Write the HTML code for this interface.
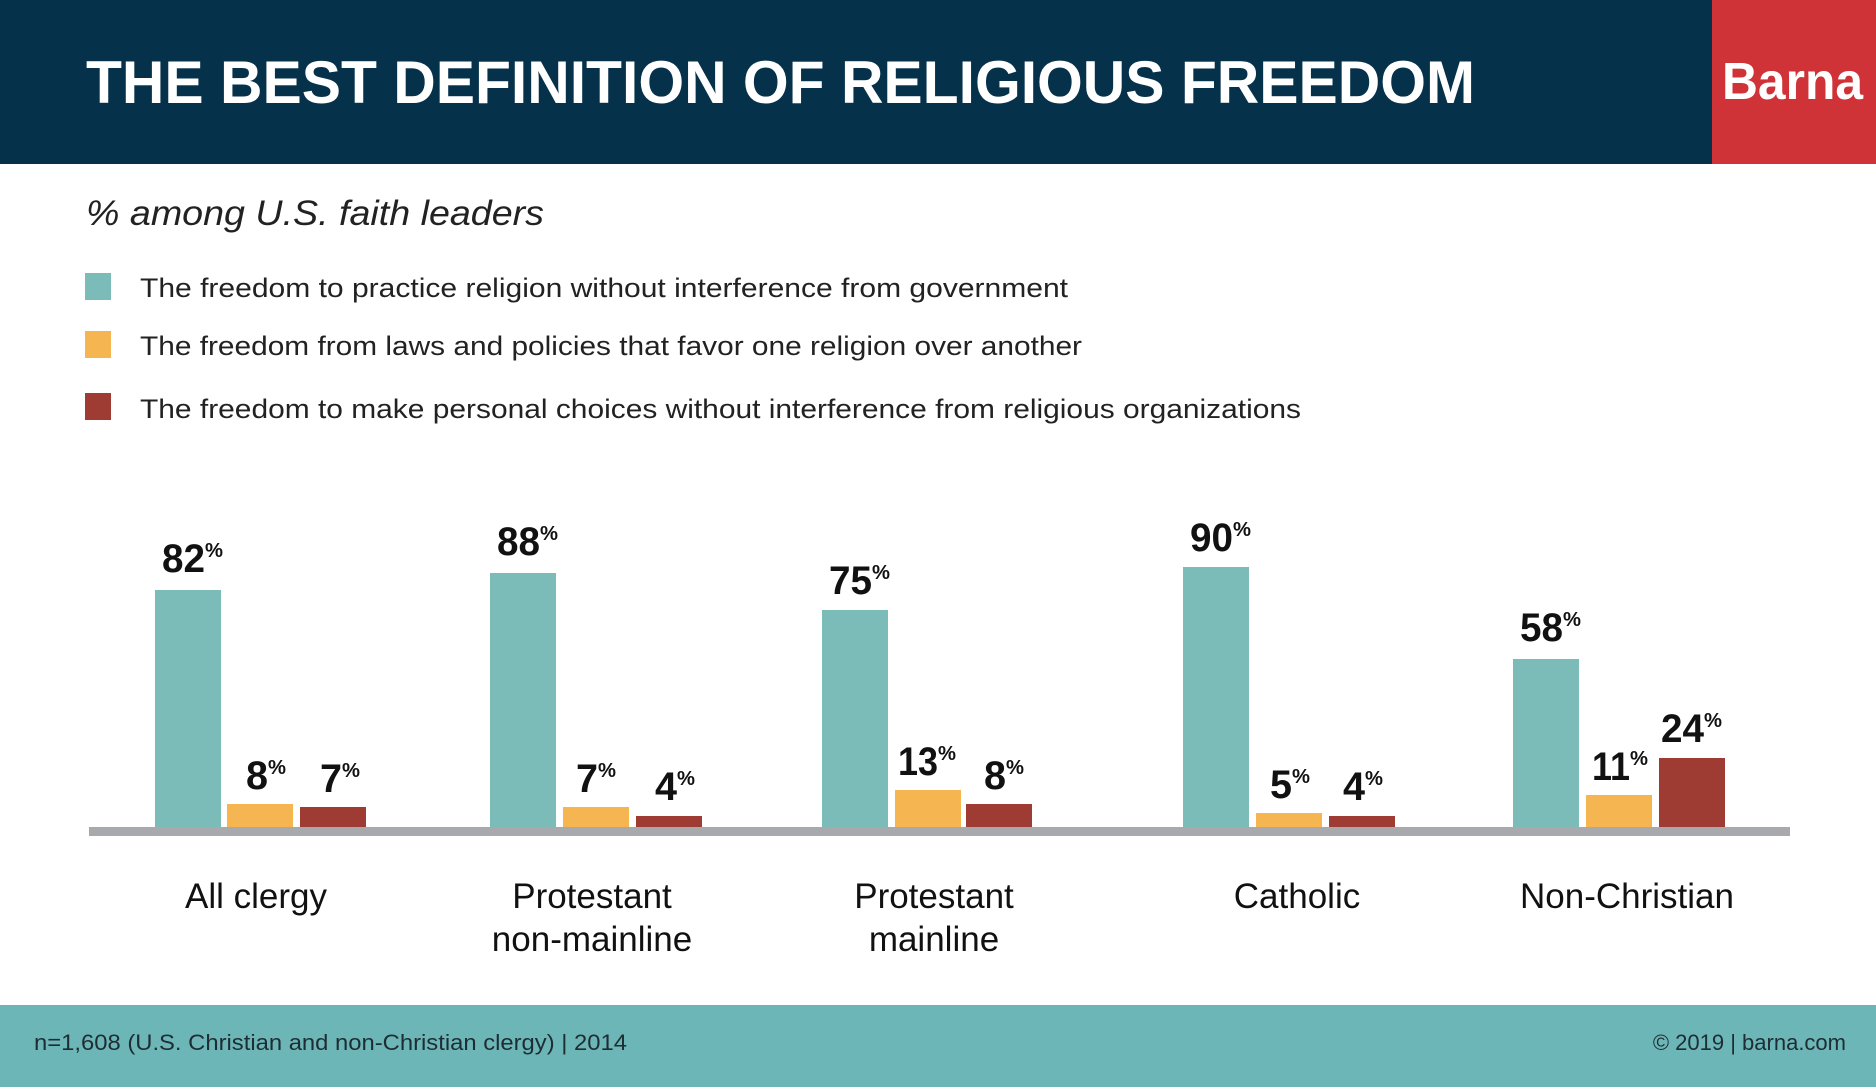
<!DOCTYPE html>
<html><head><meta charset="utf-8"><style>
html,body{margin:0;padding:0;background:#fff}
svg{display:block}
text{font-family:"Liberation Sans",sans-serif}
</style></head><body>
<svg width="1876" height="1087" viewBox="0 0 1876 1087" xmlns="http://www.w3.org/2000/svg">
<rect x="0" y="0" width="1876" height="164" fill="#06314a"/>
<rect x="1712" y="0" width="164" height="164" fill="#d03337"/>
<text x="86" y="103" font-size="60" font-weight="bold" fill="#fff" textLength="1389" lengthAdjust="spacingAndGlyphs">THE BEST DEFINITION OF RELIGIOUS FREEDOM</text>
<text x="1722" y="99" font-size="52" font-weight="bold" fill="#fff" textLength="141" lengthAdjust="spacingAndGlyphs">Barna</text>
<text x="86" y="225" font-size="35" font-style="italic" fill="#222" textLength="458" lengthAdjust="spacingAndGlyphs">% among U.S. faith leaders</text>
<rect x="85" y="273" width="26" height="27" fill="#7bbcb9"/>
<rect x="85" y="331" width="26" height="27" fill="#f5b651"/>
<rect x="85" y="393" width="26" height="27" fill="#9e3b32"/>
<g font-size="27" fill="#222">
<text x="140" y="297" textLength="928" lengthAdjust="spacingAndGlyphs">The freedom to practice religion without interference from government</text>
<text x="140" y="355" textLength="942" lengthAdjust="spacingAndGlyphs">The freedom from laws and policies that favor one religion over another</text>
<text x="140" y="418" textLength="1161" lengthAdjust="spacingAndGlyphs">The freedom to make personal choices without interference from religious organizations</text>
</g>
<g>
<rect x="155" y="590" width="66" height="237" fill="#7bbcb9"/>
<rect x="227" y="804" width="66" height="23" fill="#f5b651"/>
<rect x="300" y="807" width="66" height="20" fill="#9e3b32"/>
<rect x="490" y="573" width="66" height="254" fill="#7bbcb9"/>
<rect x="563" y="807" width="66" height="20" fill="#f5b651"/>
<rect x="636" y="816" width="66" height="11" fill="#9e3b32"/>
<rect x="822" y="610" width="66" height="217" fill="#7bbcb9"/>
<rect x="895" y="790" width="66" height="37" fill="#f5b651"/>
<rect x="966" y="804" width="66" height="23" fill="#9e3b32"/>
<rect x="1183" y="567" width="66" height="260" fill="#7bbcb9"/>
<rect x="1256" y="813" width="66" height="14" fill="#f5b651"/>
<rect x="1329" y="816" width="66" height="11" fill="#9e3b32"/>
<rect x="1513" y="659" width="66" height="168" fill="#7bbcb9"/>
<rect x="1586" y="795" width="66" height="32" fill="#f5b651"/>
<rect x="1659" y="758" width="66" height="69" fill="#9e3b32"/>
</g>
<rect x="89" y="827" width="1701" height="9" fill="#a7a9ac"/>
<g font-weight="bold" fill="#111">
<text x="162" y="572" font-size="40" textLength="43" lengthAdjust="spacingAndGlyphs">82</text><text x="205" y="557" font-size="20" textLength="18" lengthAdjust="spacingAndGlyphs">%</text>
<text x="497" y="555" font-size="40" textLength="43" lengthAdjust="spacingAndGlyphs">88</text><text x="540" y="540" font-size="20" textLength="18" lengthAdjust="spacingAndGlyphs">%</text>
<text x="829" y="594" font-size="40" textLength="43" lengthAdjust="spacingAndGlyphs">75</text><text x="872" y="579" font-size="20" textLength="18" lengthAdjust="spacingAndGlyphs">%</text>
<text x="1190" y="551" font-size="40" textLength="43" lengthAdjust="spacingAndGlyphs">90</text><text x="1233" y="536" font-size="20" textLength="18" lengthAdjust="spacingAndGlyphs">%</text>
<text x="1520" y="641" font-size="40" textLength="43" lengthAdjust="spacingAndGlyphs">58</text><text x="1563" y="626" font-size="20" textLength="18" lengthAdjust="spacingAndGlyphs">%</text>
<text x="246" y="789" font-size="40" textLength="22" lengthAdjust="spacingAndGlyphs">8</text><text x="268" y="774" font-size="20" textLength="18" lengthAdjust="spacingAndGlyphs">%</text>
<text x="320" y="792" font-size="40" textLength="22" lengthAdjust="spacingAndGlyphs">7</text><text x="342" y="777" font-size="20" textLength="18" lengthAdjust="spacingAndGlyphs">%</text>
<text x="576" y="792" font-size="40" textLength="22" lengthAdjust="spacingAndGlyphs">7</text><text x="598" y="777" font-size="20" textLength="18" lengthAdjust="spacingAndGlyphs">%</text>
<text x="655" y="800" font-size="40" textLength="22" lengthAdjust="spacingAndGlyphs">4</text><text x="677" y="785" font-size="20" textLength="18" lengthAdjust="spacingAndGlyphs">%</text>
<text x="898" y="775" font-size="40" textLength="40" lengthAdjust="spacingAndGlyphs">13</text><text x="938" y="760" font-size="20" textLength="18" lengthAdjust="spacingAndGlyphs">%</text>
<text x="984" y="789" font-size="40" textLength="22" lengthAdjust="spacingAndGlyphs">8</text><text x="1006" y="774" font-size="20" textLength="18" lengthAdjust="spacingAndGlyphs">%</text>
<text x="1270" y="798" font-size="40" textLength="22" lengthAdjust="spacingAndGlyphs">5</text><text x="1292" y="783" font-size="20" textLength="18" lengthAdjust="spacingAndGlyphs">%</text>
<text x="1343" y="800" font-size="40" textLength="22" lengthAdjust="spacingAndGlyphs">4</text><text x="1365" y="785" font-size="20" textLength="18" lengthAdjust="spacingAndGlyphs">%</text>
<text x="1592" y="780" font-size="40" textLength="38" lengthAdjust="spacingAndGlyphs">11</text><text x="1630" y="765" font-size="20" textLength="18" lengthAdjust="spacingAndGlyphs">%</text>
<text x="1661" y="742" font-size="40" textLength="43" lengthAdjust="spacingAndGlyphs">24</text><text x="1704" y="727" font-size="20" textLength="18" lengthAdjust="spacingAndGlyphs">%</text>
</g>
<g font-size="35" fill="#111" text-anchor="middle">
<text x="256" y="908">All clergy</text>
<text x="592" y="908">Protestant</text>
<text x="592" y="951">non-mainline</text>
<text x="934" y="908">Protestant</text>
<text x="934" y="951">mainline</text>
<text x="1297" y="908">Catholic</text>
<text x="1627" y="908">Non-Christian</text>
</g>
<rect x="0" y="1005" width="1876" height="82" fill="#6db6b8"/>
<text x="34" y="1050" font-size="22" fill="#1e2d33" textLength="593" lengthAdjust="spacingAndGlyphs">n=1,608 (U.S. Christian and non-Christian clergy) | 2014</text>
<text x="1846" y="1050" font-size="22" fill="#1e2d33" text-anchor="end">© 2019 | barna.com</text>
</svg>
</body></html>
